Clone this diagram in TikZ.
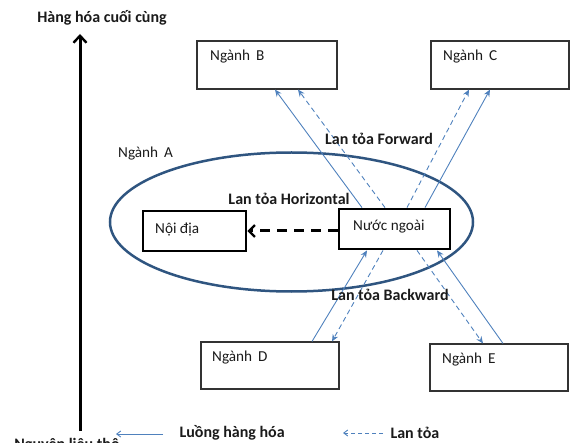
\documentclass[tikz,border=0pt]{standalone}
\usepackage{fontspec}
\setmainfont{Carlito}
\usetikzlibrary{arrows.meta,calc,shapes.geometric}
\definecolor{flowblue}{HTML}{4F81BD}
\definecolor{ellblue}{HTML}{2F5580}
\definecolor{txt}{HTML}{1A1A1A}
\tikzset{
  every node/.style={font=\fontsize{15.2}{18}\selectfont, text=txt},
  boldlbl/.style={font=\fontsize{16}{19}\selectfont\bfseries},
  sector/.style={draw=black!80, line width=1.1pt, minimum width=140pt, minimum height=48pt, inner sep=0pt},
  firm/.style={draw=black, line width=2.8pt, inner sep=0pt},
  flow/.style={draw=flowblue, line width=0.9pt, -{Stealth[length=7pt,width=6pt]}},
  spill/.style={flow, dash pattern=on 5pt off 3.5pt},
  boxtxt/.style={anchor=west, inner sep=0pt}
}
\begin{document}
\begin{tikzpicture}[x=1pt,y=-1pt]
\useasboundingbox (0,0) rectangle (572,443);
% vertical axis
\node[boldlbl, anchor=center] (top) at (102,18) {Hàng hóa cuối cùng};
\node[boldlbl, anchor=center] (bot) at (67,445) {Nguyên liệu thô};
\coordinate (axb) at (80,431);
\coordinate (axt) at (80,34);
\draw[line width=3pt, -{Straight Barb[length=7pt,width=13pt,line width=2.4pt]}] (axb) -- (axt);

% sector boxes
\node[sector, minimum width=140pt, minimum height=48pt] (B) at (267,65) {};
\node[boxtxt] (Bt) at (210,57) {Ngành\, B};
\node[sector, minimum width=138pt, minimum height=48pt] (C) at (500,65) {};
\node[boxtxt] (Ct) at (443,57) {Ngành\, C};
\node[sector, minimum width=138pt, minimum height=47pt] (D) at (270,365.5) {};
\node[boxtxt] (Dt) at (212,358) {Ngành\, D};
\node[sector, minimum width=138pt, minimum height=47pt] (E) at (499,367.5) {};
\node[boxtxt] (Et) at (442,360) {Ngành\, E};

% industry A
\node[draw=ellblue, line width=2.5pt, ellipse, minimum width=363pt, minimum height=139pt, inner sep=0pt] (A) at (291.5,222) {};
\node[boxtxt] (At) at (118,154) {Ngành\, A};

% firms
\node[firm, minimum width=103pt, minimum height=40pt] (ND) at (194.5,231) {};
\node[boxtxt] (NDt) at (155,230) {Nội địa};
\node[firm, minimum width=111pt, minimum height=40pt] (NN) at (394.5,229) {};
\node[boxtxt] (NNt) at (353,227) {Nước ngoài};

% horizontal spillover
\draw[line width=3pt, dash pattern=on 10pt off 7pt, -{Straight Barb[length=6pt,width=12pt,line width=2.2pt]}] (NN.west |- ND.east) -- (ND.east);
\node[boldlbl] (Hl) at (289,199) {Lan tỏa Horizontal};

% forward
\draw[flow] (362,0 |- NN.north) -- (275,0 |- B.south);
\draw[spill] (385,0 |- NN.north) -- (298,0 |- B.south);
\draw[spill] (407,0 |- NN.north) -- (469,0 |- C.south);
\draw[flow] (425,0 |- NN.north) -- (490,0 |- C.south);
\node[boldlbl] (Fl) at (379,139) {Lan tỏa Forward};

% backward
\draw[flow] (312,0 |- D.north) -- (367,0 |- NN.south);
\draw[spill] (383,0 |- NN.south) -- (332,0 |- D.north);
\draw[spill] (417,0 |- NN.south) -- (483,0 |- E.north);
\draw[flow] (503,0 |- E.north) -- (437,0 |- NN.south);
\node[boldlbl] (Bl) at (390,295) {Lan tỏa Backward};

% legend
\coordinate (l1s) at (163,434);
\coordinate (l1e) at (116,434);
\draw[flow, -{Straight Barb[length=4pt,width=6pt]}] (l1s) -- (l1e);
\node[boldlbl, anchor=west] (L1) at (176,433) {Luồng hàng hóa};
\coordinate (l2s) at (383,433);
\coordinate (l2e) at (343,433);
\draw[flow, dash pattern=on 4pt off 3pt, -{Straight Barb[length=4pt,width=6pt]}] (l2s) -- (l2e);
\node[boldlbl, anchor=west] (L2) at (387,433) {Lan tỏa};
\end{tikzpicture}
\end{document}
